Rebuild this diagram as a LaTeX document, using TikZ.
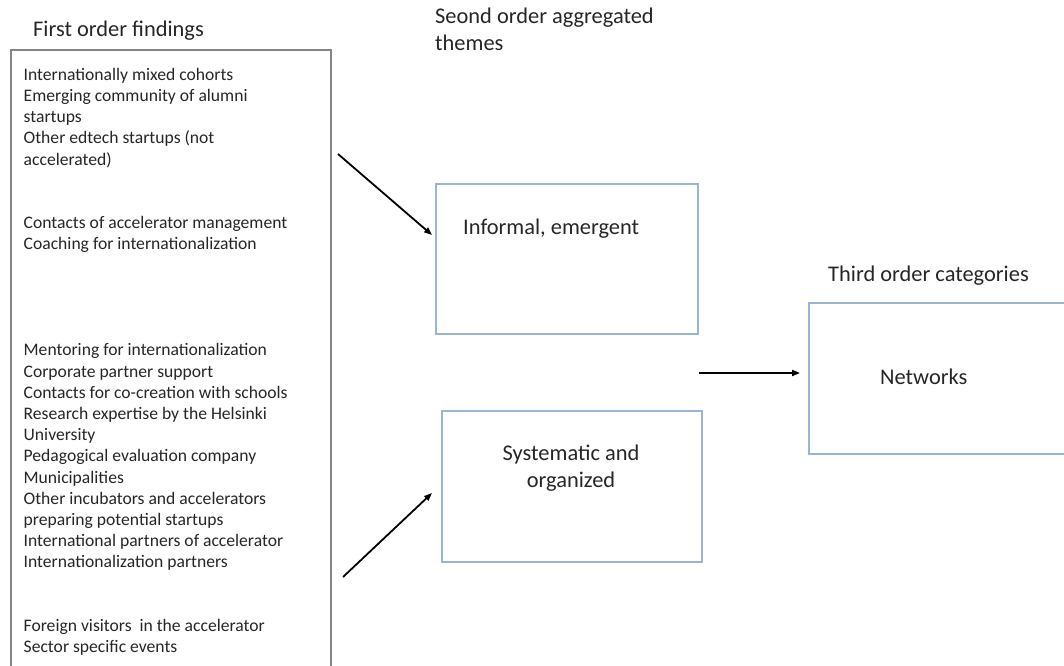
\documentclass[tikz,border=0pt]{standalone}
\usepackage{fontspec}
\setmainfont{Carlito}
\usetikzlibrary{arrows.meta}
\definecolor{boxblue}{HTML}{9BB3D4}
\definecolor{boxgray}{HTML}{858585}
\definecolor{ink}{HTML}{262626}
\begin{document}
\begin{tikzpicture}[x=1pt,y=-1pt,
  every node/.style={text=ink},
  frame/.style={draw=boxblue, line width=1.3pt, inner sep=0pt, outer sep=0pt, anchor=north west},
  listframe/.style={draw=boxgray, line width=1.4pt, inner sep=0pt, outer sep=0pt, anchor=north west},
  heading/.style={font=\fontsize{22.4}{27}\selectfont, inner sep=0pt},
  items/.style={font=\fontsize{17.6}{21.2}\selectfont, align=left, inner sep=0pt, anchor=north west},
  link/.style={line width=1.8pt, -{Triangle[length=8pt,width=6pt]}},
]
\useasboundingbox (0,0) rectangle (1064,665);

% column headings
\node[heading, anchor=base west] (h1) at (33,36) {First order findings};
\node[heading, align=left, anchor=north west] (h2) at (435,4.1) {\strut Seond order aggregated\\\strut themes};
\node[heading, anchor=base west] (h3) at (828,281.5) {Third order categories};

% first order findings
\node[listframe, minimum width=320pt, minimum height=630pt] (find) at (11,50) {};
\node[items] (list) at (23.5,65.2) {%
\strut Internationally mixed cohorts\\
\strut Emerging community of alumni\\
\strut startups\\
\strut Other edtech startups (not\\
\strut accelerated)\\
\strut\\
\strut\\
\strut Contacts of accelerator management\\
\strut Coaching for internationalization\\
\strut\\
\strut\\
\strut\\
\strut\\
\strut Mentoring for internationalization\\
\strut Corporate partner support\\
\strut Contacts for co-creation with schools\\
\strut Research expertise by the Helsinki\\
\strut University\\
\strut Pedagogical evaluation company\\
\strut Municipalities\\
\strut Other incubators and accelerators\\
\strut preparing potential startups\\
\strut International partners of accelerator\\
\strut Internationalization partners\\
\strut\\
\strut\\
\strut Foreign visitors\ \ in the accelerator\\
\strut Sector specific events};

% second order themes
\node[frame, minimum width=262pt, minimum height=150pt] (inf) at (436,184) {};
\node[heading, anchor=base west] (inflabel) at (463,234) {Informal, emergent};

\node[frame, minimum width=260pt, minimum height=151pt] (sys) at (442,411) {};
\node[heading, align=center, anchor=north] (syslabel) at (571,441.6) {\strut Systematic and\\\strut organized};

% third order category
\node[frame, minimum width=270pt, minimum height=151pt] (net) at (809,303) {};
\node[heading, anchor=base west] (netlabel) at (880,384.3) {Networks};

% connectors
\coordinate (a1s) at (338,154);
\coordinate (a1e) at (432,235);
\coordinate (a2s) at (343,577);
\coordinate (a2e) at (432,493);
\coordinate (a3s) at (699,373);
\coordinate (a3e) at (800,373);
\draw[link] (a1s) -- (a1e);
\draw[link] (a2s) -- (a2e);
\draw[link] (a3s) -- (a3e);
\end{tikzpicture}
\end{document}
